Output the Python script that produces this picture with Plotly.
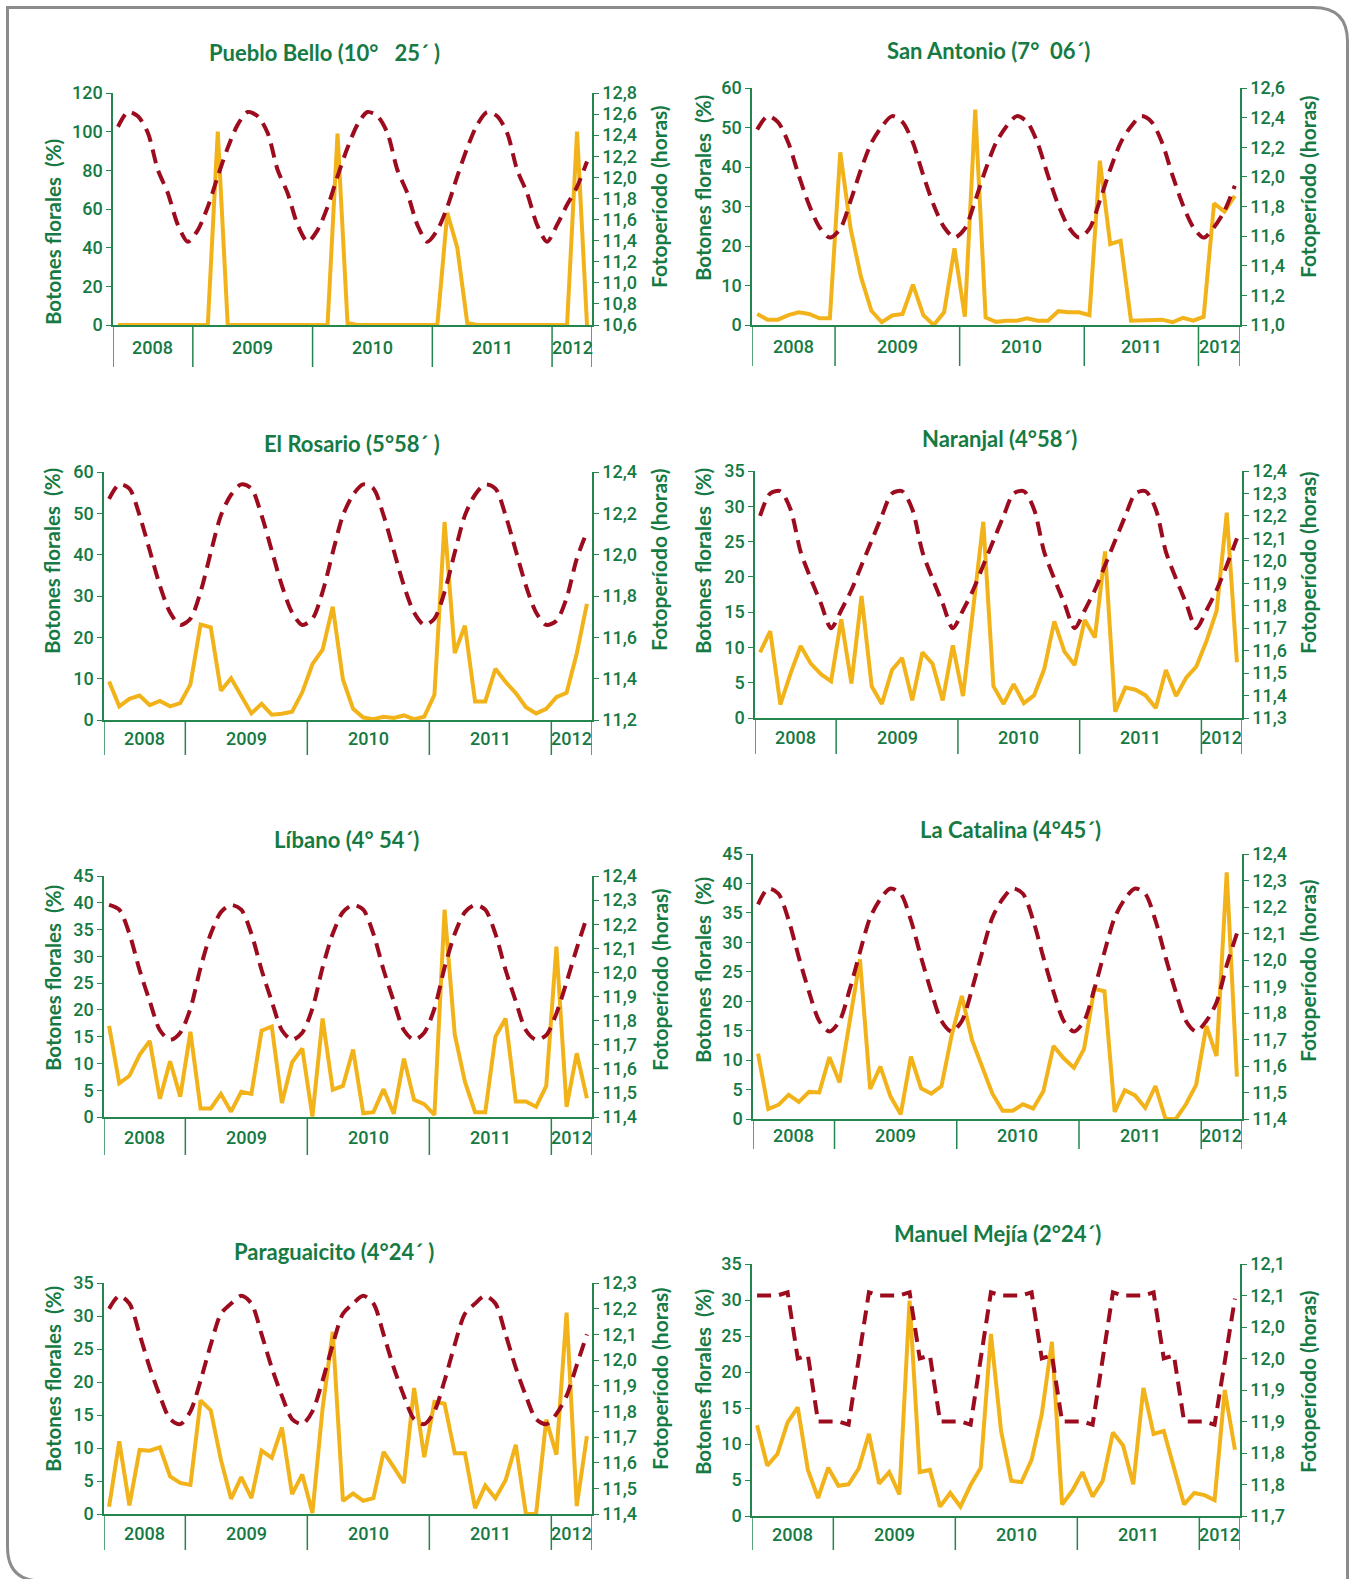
import plotly.graph_objects as go

W, H = 1349, 1579
GREEN = "#157a43"
LINE_GREEN = "#24854f"
GOLD = "#F2B31A"
WINE = "#9C0C1E"
TICK_FAMILY = "Roboto, Liberation Sans, sans-serif"
HEAD = "Lato, Open Sans, sans-serif"

years = ["2008", "2009", "2010", "2011", "2012"]

# ---------------- Pueblo Bello ----------------
pb_title = "Pueblo Bello (10°   25´ )"
pb_months = [8, 12, 12, 12, 4]
pb_botones = [0, 0, 0, 0, 0, 0, 0, 0,
              0, 0, 100, 0, 0, 0, 0, 0, 0, 0, 0, 0,
              0, 0, 99, 1, 0, 0, 0, 0, 0, 0, 0, 0,
              0, 58, 40, 1, 0, 0, 0, 0, 0, 0, 0, 0,
              0, 0, 100, 0]
pb_foto = [12.48, 12.62, 12.58, 12.42, 12.07, 11.85, 11.55, 11.39,
           11.50, 11.72, 12.01, 12.28, 12.50, 12.62, 12.58, 12.42, 12.07, 11.85, 11.55, 11.39,
           11.50, 11.72, 12.01, 12.28, 12.50, 12.62, 12.58, 12.42, 12.07, 11.85, 11.55, 11.39,
           11.50, 11.72, 12.01, 12.28, 12.50, 12.62, 12.58, 12.42, 12.07, 11.85, 11.55, 11.39,
           11.55, 11.74, 11.91, 12.15]
pb_left_ticks = [0, 20, 40, 60, 80, 100, 120]
pb_right_ticks = [10.6, 10.8, 11.0, 11.2, 11.4, 11.6, 11.8, 12.0, 12.2, 12.4, 12.6, 12.8]
pb_right_labels = ["10,6", "10,8", "11,0", "11,2", "11,4", "11,6", "11,8", "12,0", "12,2", "12,4", "12,6", "12,8"]

# ---------------- San Antonio ----------------
sa_title = "San Antonio (7°  06´)"
sa_months = [8, 12, 12, 11, 4]
sa_botones = [2.8, 1.35, 1.35, 2.5, 3.2, 2.8, 1.7, 1.7,
              43.7, 24.3, 12.1, 3.6, 0.7, 2.4, 2.8, 10.2, 2.5, 0, 3.2, 19.4,
              2.1, 54.5, 1.9, 0.8, 1.1, 1.1, 1.7, 1.1, 1.1, 3.5, 3.2, 3.2,
              2.5, 41.6, 20.5, 21.3, 1.1, 1.1, 1.1, 1.35, 0.7, 1.8, 1.1,
              2.1, 30.8, 28.7, 32.7]
sa_foto = [12.32, 12.41, 12.37, 12.23, 12.01, 11.81, 11.66, 11.59,
           11.65, 11.84, 12.05, 12.23, 12.34, 12.41, 12.37, 12.23, 12.01, 11.81, 11.66, 11.59,
           11.65, 11.84, 12.05, 12.23, 12.34, 12.41, 12.37, 12.23, 12.01, 11.81, 11.66, 11.59,
           11.65, 11.84, 12.05, 12.23, 12.34, 12.41, 12.37, 12.23, 12.01, 11.81, 11.66,
           11.59, 11.66, 11.77, 11.94]
sa_left_ticks = [0, 10, 20, 30, 40, 50, 60]
sa_right_ticks = [11.0, 11.2, 11.4, 11.6, 11.8, 12.0, 12.2, 12.4, 12.6]
sa_right_labels = ["11,0", "11,2", "11,4", "11,6", "11,8", "12,0", "12,2", "12,4", "12,6"]

# ---------------- El Rosario ----------------
er_title = "El Rosario (5°58´ )"
er_months = [8, 12, 12, 12, 4]
er_botones = [9.3, 3.3, 5.1, 5.9, 3.6, 4.6, 3.3, 4.1,
              8.6, 23.1, 22.4, 7.1, 10.1, 5.9, 1.6, 3.9, 1.3, 1.5, 2.0, 6.7,
              13.5, 17.0, 27.4, 9.8, 2.7, 0.6, 0.2, 0.8, 0.5, 1.1, 0.2, 0.8,
              6.1, 47.9, 16.2, 22.8, 4.5, 4.5, 12.4, 9.2, 6.5, 3.1, 1.6, 2.7,
              5.5, 6.6, 16.1, 28.1]
er_foto = [12.27, 12.34, 12.32, 12.19, 12.02, 11.85, 11.72, 11.66,
           11.69, 11.82, 12.01, 12.19, 12.29, 12.34, 12.32, 12.19, 12.02, 11.85, 11.72, 11.66,
           11.69, 11.82, 12.01, 12.19, 12.29, 12.34, 12.32, 12.19, 12.02, 11.85, 11.72, 11.66,
           11.69, 11.82, 12.01, 12.19, 12.29, 12.34, 12.32, 12.19, 12.02, 11.85, 11.72, 11.66,
           11.68, 11.79, 11.98, 12.11]
er_left_ticks = [0, 10, 20, 30, 40, 50, 60]
er_right_ticks = [11.2, 11.4, 11.6, 11.8, 12.0, 12.2, 12.4]
er_right_labels = ["11,2", "11,4", "11,6", "11,8", "12,0", "12,2", "12,4"]

# ---------------- Naranjal ----------------
nj_title = "Naranjal (4°58´)"
nj_months = [8, 12, 12, 12, 4]
nj_botones = [9.3, 12.3, 1.9, 6.3, 10.2, 7.7, 6.2, 5.2,
              14.0, 4.9, 17.3, 4.5, 2.0, 6.8, 8.5, 2.5, 9.3, 7.7, 2.5, 10.3,
              3.1, 15.5, 27.8, 4.5, 2.0, 4.8, 2.1, 3.2, 6.9, 13.7, 9.4, 7.5,
              13.9, 11.4, 23.6, 0.9, 4.3, 4.0, 3.2, 1.4, 6.8, 3.1, 5.7, 7.3,
              10.9, 15.2, 29.1, 7.9]
nj_foto = [12.20, 12.30, 12.31, 12.23, 12.04, 11.92, 11.81, 11.70,
           11.78, 11.87, 11.98, 12.09, 12.20, 12.30, 12.31, 12.23, 12.04, 11.92, 11.81, 11.70,
           11.78, 11.87, 11.98, 12.09, 12.20, 12.30, 12.31, 12.23, 12.04, 11.92, 11.81, 11.70,
           11.78, 11.87, 11.98, 12.09, 12.20, 12.30, 12.31, 12.23, 12.04, 11.92, 11.81, 11.70,
           11.78, 11.87, 11.98, 12.10]
nj_left_ticks = [0, 5, 10, 15, 20, 25, 30, 35]
nj_right_ticks = [11.3, 11.4, 11.5, 11.6, 11.7, 11.8, 11.9, 12.0, 12.1, 12.2, 12.3, 12.4]
nj_right_labels = ["11,3", "11,4", "11,5", "11,6", "11,7", "11,8", "11,9", "12,0", "12,1", "12,2", "12,3", "12,4"]

# ---------------- Líbano ----------------
lb_title = "Líbano (4° 54´)"
lb_months = [8, 12, 12, 12, 4]
lb_botones = [17.0, 6.3, 7.7, 11.6, 14.2, 3.4, 10.4, 3.8,
              15.9, 1.6, 1.6, 4.3, 1.0, 4.7, 4.3, 16.1, 16.9, 2.6, 10.2, 12.8,
              0.1, 18.4, 5.1, 5.8, 12.6, 0.7, 0.9, 5.2, 0.6, 10.9, 3.2, 2.4,
              0.4, 38.7, 15.4, 6.6, 0.9, 0.9, 15.0, 18.4, 2.9, 2.9, 1.9, 5.8,
              31.8, 1.9, 11.9, 3.5]
lb_foto = [12.28, 12.26, 12.16, 12.01, 11.88, 11.76, 11.72, 11.75,
           11.85, 12.02, 12.16, 12.25, 12.28, 12.26, 12.16, 12.01, 11.88, 11.76, 11.72, 11.75,
           11.85, 12.02, 12.16, 12.25, 12.28, 12.26, 12.16, 12.01, 11.88, 11.76, 11.72, 11.75,
           11.85, 12.02, 12.16, 12.25, 12.28, 12.26, 12.16, 12.01, 11.88, 11.76, 11.72, 11.74,
           11.83, 11.96, 12.10, 12.23]
lb_left_ticks = [0, 5, 10, 15, 20, 25, 30, 35, 40, 45]
lb_right_ticks = [11.4, 11.5, 11.6, 11.7, 11.8, 11.9, 12.0, 12.1, 12.2, 12.3, 12.4]
lb_right_labels = ["11,4", "11,5", "11,6", "11,7", "11,8", "11,9", "12,0", "12,1", "12,2", "12,3", "12,4"]

# ---------------- La Catalina ----------------
lc_title = "La Catalina (4°45´)"
lc_months = [8, 12, 12, 12, 4]
lc_botones = [11.1, 1.7, 2.4, 4.1, 2.9, 4.6, 4.5, 10.5,
              6.2, 17.0, 27.1, 5.1, 8.9, 3.8, 0.8, 10.6, 5.2, 4.3, 5.6, 14.2,
              20.9, 13.4, 8.7, 4.3, 1.4, 1.4, 2.5, 1.8, 4.7, 12.4, 10.3, 8.7,
              11.9, 22.1, 21.7, 1.2, 4.9, 4.0, 1.9, 5.6, 0, 0, 2.5, 5.8,
              15.8, 10.7, 41.9, 7.2]
lc_foto = [12.21, 12.27, 12.25, 12.15, 12.01, 11.88, 11.77, 11.73,
           11.77, 11.89, 12.03, 12.16, 12.23, 12.27, 12.25, 12.15, 12.01, 11.88, 11.77, 11.73,
           11.77, 11.89, 12.03, 12.16, 12.23, 12.27, 12.25, 12.15, 12.01, 11.88, 11.77, 11.73,
           11.77, 11.89, 12.03, 12.16, 12.23, 12.27, 12.25, 12.15, 12.01, 11.88, 11.77, 11.73,
           11.77, 11.84, 11.98, 12.10]
lc_left_ticks = [0, 5, 10, 15, 20, 25, 30, 35, 40, 45]
lc_right_ticks = [11.4, 11.5, 11.6, 11.7, 11.8, 11.9, 12.0, 12.1, 12.2, 12.3, 12.4]
lc_right_labels = ["11,4", "11,5", "11,6", "11,7", "11,8", "11,9", "12,0", "12,1", "12,2", "12,3", "12,4"]

# ---------------- Paraguaicito ----------------
pg_title = "Paraguaicito (4°24´ )"
pg_months = [8, 12, 12, 12, 4]
pg_botones = [1.1, 11.0, 1.3, 9.7, 9.6, 10.1, 5.7, 4.7,
              4.4, 17.2, 15.7, 8.2, 2.3, 5.6, 2.4, 9.6, 8.5, 13.1, 3.0, 6.0,
              0.15, 16.0, 27.6, 2.0, 3.1, 2.0, 2.4, 9.4, 7.1, 4.7, 19.1, 8.6,
              17.0, 16.7, 9.2, 9.2, 0.9, 4.3, 2.4, 5.1, 10.5, 0, 0, 14.3,
              9.0, 30.5, 1.2, 11.8]
pg_foto = [12.20, 12.25, 12.22, 12.10, 11.97, 11.86, 11.77, 11.75,
           11.80, 11.92, 12.06, 12.18, 12.22, 12.25, 12.22, 12.10, 11.97, 11.86, 11.77, 11.75,
           11.80, 11.92, 12.06, 12.18, 12.22, 12.25, 12.22, 12.10, 11.97, 11.86, 11.77, 11.75,
           11.80, 11.92, 12.06, 12.18, 12.22, 12.25, 12.22, 12.10, 11.97, 11.86, 11.77, 11.75,
           11.79, 11.86, 11.98, 12.10]
pg_left_ticks = [0, 5, 10, 15, 20, 25, 30, 35]
pg_right_ticks = [11.4, 11.5, 11.6, 11.7, 11.8, 11.9, 12.0, 12.1, 12.2, 12.3]
pg_right_labels = ["11,4", "11,5", "11,6", "11,7", "11,8", "11,9", "12,0", "12,1", "12,2", "12,3"]

# ---------------- Manuel Mejía ----------------
mm_title = "Manuel Mejía (2°24´)"
mm_months = [8, 12, 12, 12, 4]
mm_botones = [12.6, 7.0, 8.6, 13.0, 15.1, 6.4, 2.5, 6.7,
              4.2, 4.4, 6.6, 11.4, 4.5, 6.1, 3.0, 29.9, 6.1, 6.4, 1.3, 3.2,
              1.3, 4.3, 6.7, 25.3, 11.8, 4.9, 4.7, 7.8, 14.1, 24.2, 1.6, 3.5,
              6.1, 2.7, 4.9, 11.6, 9.8, 4.4, 17.8, 11.4, 11.8, 6.5, 1.6, 3.2,
              2.9, 2.2, 17.5, 9.2]
mm_foto = [12.05, 12.05, 12.05, 12.055, 11.95, 11.955, 11.85, 11.85,
           11.85, 11.845, 11.95, 12.055, 12.05, 12.05, 12.05, 12.055, 11.95, 11.955, 11.85, 11.85,
           11.85, 11.845, 11.95, 12.055, 12.05, 12.05, 12.05, 12.055, 11.95, 11.955, 11.85, 11.85,
           11.85, 11.845, 11.95, 12.055, 12.05, 12.05, 12.05, 12.055, 11.95, 11.955, 11.85, 11.85,
           11.85, 11.845, 11.95, 12.045]
mm_left_ticks = [0, 5, 10, 15, 20, 25, 30, 35]
mm_right_ticks = [11.70, 11.75, 11.80, 11.85, 11.90, 11.95, 12.00, 12.05, 12.10]
mm_right_labels = ["11,7", "11,8", "11,8", "11,9", "11,9", "12,0", "12,0", "12,1", "12,1"]

panels = [
    dict(title=pb_title, months=pb_months, botones=pb_botones, foto=pb_foto,
         lt=pb_left_ticks, rt=pb_right_ticks, rl=pb_right_labels, smooth=True),
    dict(title=sa_title, months=sa_months, botones=sa_botones, foto=sa_foto,
         lt=sa_left_ticks, rt=sa_right_ticks, rl=sa_right_labels, smooth=True),
    dict(title=er_title, months=er_months, botones=er_botones, foto=er_foto,
         lt=er_left_ticks, rt=er_right_ticks, rl=er_right_labels, smooth=True),
    dict(title=nj_title, months=nj_months, botones=nj_botones, foto=nj_foto,
         lt=nj_left_ticks, rt=nj_right_ticks, rl=nj_right_labels, smooth=True),
    dict(title=lb_title, months=lb_months, botones=lb_botones, foto=lb_foto,
         lt=lb_left_ticks, rt=lb_right_ticks, rl=lb_right_labels, smooth=True),
    dict(title=lc_title, months=lc_months, botones=lc_botones, foto=lc_foto,
         lt=lc_left_ticks, rt=lc_right_ticks, rl=lc_right_labels, smooth=True),
    dict(title=pg_title, months=pg_months, botones=pg_botones, foto=pg_foto,
         lt=pg_left_ticks, rt=pg_right_ticks, rl=pg_right_labels, smooth=True),
    dict(title=mm_title, months=mm_months, botones=mm_botones, foto=mm_foto,
         lt=mm_left_ticks, rt=mm_right_ticks, rl=mm_right_labels, smooth=False),
]

# Panel boxes in pixels: plot left, plot right, top, axis, divider bottom,
# title centre, left title centre, right title centre
geometry = [
    (113, 592, 93, 325, 367, (324, 52), (53, 232), (659, 197)),
    (752, 1240, 88, 325, 366, (988, 50), (703, 188), (1307, 187)),
    (104, 592, 472, 720, 755, (352, 443), (52, 561), (658, 560)),
    (755, 1242, 471, 718, 754, (999, 438), (703, 561), (1307, 563)),
    (104, 592, 876, 1117, 1155, (346, 839), (53, 978), (659, 980)),
    (753, 1242, 854, 1119, 1149, (1010, 829), (703, 970), (1307, 971)),
    (104, 592, 1283, 1514, 1550, (334, 1251), (53, 1379), (659, 1379)),
    (752, 1240, 1264, 1516, 1550, (997, 1233), (703, 1382), (1307, 1382)),
]


def fx(x):
    return x / W


def fy(y):
    return 1 - y / H


fig = go.Figure()
layout = {}
shapes = []
annotations = []
tick_font = dict(family=TICK_FAMILY, size=18, color=GREEN, weight=500)
year_font = dict(family=TICK_FAMILY, size=18, color=GREEN, weight=500)

for k, (p, g) in enumerate(zip(panels, geometry), start=1):
    x0, x1, ytop, yaxis_px, ydiv, tpos, lpos, rpos = g
    xname = "x" if k == 1 else f"x{k}"
    yl = 2 * k - 1
    yr = 2 * k
    ylname = "y" if yl == 1 else f"y{yl}"
    yrname = f"y{yr}"
    n = len(p["botones"])
    xs = list(range(n))

    fig.add_trace(go.Scatter(
        x=xs, y=p["botones"], xaxis=xname, yaxis=ylname, mode="lines",
        line=dict(color=GOLD, width=4), cliponaxis=False, showlegend=False,
        hoverinfo="skip"))
    fig.add_trace(go.Scatter(
        x=xs, y=p["foto"], xaxis=xname, yaxis=yrname, mode="lines",
        line=dict(color=WINE, width=4, dash="14px,8px",
                  shape="spline" if p["smooth"] else "linear", smoothing=0.8),
        cliponaxis=False, showlegend=False, hoverinfo="skip"))

    xkey = "xaxis" if k == 1 else f"xaxis{k}"
    ylkey = "yaxis" if yl == 1 else f"yaxis{yl}"
    yrkey = f"yaxis{yr}"

    layout[xkey] = dict(
        domain=[fx(x0), fx(x1)], range=[-0.5, n - 0.5], anchor=ylname,
        showline=True, linecolor=LINE_GREEN, linewidth=1.5, showticklabels=False,
        ticks="", showgrid=False, zeroline=False, automargin=False, fixedrange=True)
    layout[ylkey] = dict(
        domain=[fy(yaxis_px), fy(ytop)], range=[p["lt"][0], p["lt"][-1]], anchor=xname,
        tickmode="array", tickvals=p["lt"], ticktext=[str(v) for v in p["lt"]],
        ticks="outside", ticklen=5, tickwidth=1.2, tickcolor=LINE_GREEN,
        showline=True, linecolor=LINE_GREEN, linewidth=1.5, showgrid=False,
        zeroline=False, tickfont=tick_font, automargin=False, fixedrange=True)
    layout[yrkey] = dict(
        overlaying=ylname, side="right", anchor=xname,
        range=[p["rt"][0], p["rt"][-1]], tickmode="array", tickvals=p["rt"],
        ticktext=p["rl"], ticks="outside", ticklen=5, tickwidth=1.2,
        tickcolor=LINE_GREEN, showline=True, linecolor=LINE_GREEN, linewidth=1.5,
        showgrid=False, zeroline=False, tickfont=tick_font, automargin=False,
        fixedrange=True)

    # year dividers below the axis and year labels between them
    bounds = [-0.5]
    for m in p["months"]:
        bounds.append(bounds[-1] + m)
    for b in bounds:
        shapes.append(dict(type="line", xref=xname, yref="paper", x0=b, x1=b,
                           y0=fy(yaxis_px), y1=fy(ydiv),
                           line=dict(color=LINE_GREEN, width=1.5)))
    ymid = fy((yaxis_px + ydiv) / 2 + 1)
    for yr_label, a, b in zip(years, bounds[:-1], bounds[1:]):
        annotations.append(dict(xref=xname, yref="paper", x=(a + b) / 2, y=ymid,
                                text=yr_label, showarrow=False, xanchor="center",
                                yanchor="middle", font=year_font))

    annotations.append(dict(xref="paper", yref="paper", x=fx(tpos[0]), y=fy(tpos[1]),
                            text=p["title"], showarrow=False, xanchor="center",
                            yanchor="middle",
                            font=dict(family=HEAD, size=22, color=GREEN, weight="bold")))
    annotations.append(dict(xref="paper", yref="paper", x=fx(lpos[0]), y=fy(lpos[1]),
                            text="Botones florales  (%)", textangle=-90, showarrow=False,
                            xanchor="center", yanchor="middle",
                            font=dict(family=HEAD, size=20.5, color=GREEN, weight="bold")))
    annotations.append(dict(xref="paper", yref="paper", x=fx(rpos[0]), y=fy(rpos[1]),
                            text="Fotoperíodo (horas)", textangle=-90, showarrow=False,
                            xanchor="center", yanchor="middle",
                            font=dict(family=HEAD, size=21, color=GREEN, weight="bold")))

# Rounded frame around the whole figure
L, T, R, B, r = 7.5, 7.5, 1347.5, 1581, 34
frame = (f"M {fx(L)},{fy(B - r)} L {fx(L)},{fy(T)} L {fx(R - r)},{fy(T)} "
         f"Q {fx(R)},{fy(T)} {fx(R)},{fy(T + r)} L {fx(R)},{fy(B)} L {fx(L + r)},{fy(B)} "
         f"Q {fx(L)},{fy(B)} {fx(L)},{fy(B - r)} Z")
shapes.append(dict(type="path", xref="paper", yref="paper", path=frame,
                   line=dict(color="#8c8c8c", width=3), layer="below"))

fig.update_layout(
    width=W, height=H, margin=dict(l=0, r=0, t=0, b=0),
    paper_bgcolor="white", plot_bgcolor="rgba(0,0,0,0)",
    showlegend=False, shapes=shapes, annotations=annotations, **layout)

fig.write_html("out.html")
